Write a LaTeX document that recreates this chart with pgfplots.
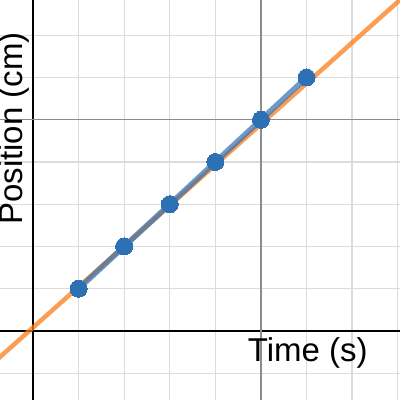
\documentclass[border=0pt]{standalone}
\usepackage{pgfplots}
\pgfplotsset{compat=1.18}
\usepackage{fontspec}
\setmainfont{Liberation Sans}
\definecolor{dorange}{RGB}{250,126,25}
\definecolor{dblue}{RGB}{45,112,179}
\definecolor{gminor}{RGB}{220,220,220}
\definecolor{gmajor}{RGB}{140,140,140}
\begin{document}
\begin{tikzpicture}
\begin{axis}[
  width=400bp, height=400bp, scale only axis,
  xmin=-0.724, xmax=8.05, ymin=-1.633, ymax=7.834,
  axis lines=middle,
  axis line style={black, line width=2.2bp, -},
  xtick={-1,0,1,2,3,4,6,7,8,9}, ytick={-2,-1,0,1,2,3,4,6,7,8},
  extra x ticks={5}, extra y ticks={5},
  xticklabels={}, yticklabels={},
  extra x tick labels={}, extra y tick labels={},
  major tick length=0pt,
  grid=major,
  grid style={color=gminor, line width=1.3bp},
  extra tick style={grid=major, major tick length=0pt, grid style={color=gmajor, line width=1.3bp}},
  clip=true,
]
\addplot[color=dorange, opacity=0.75, line width=4.5bp] coordinates {(-0.8,-0.688) (8.1,7.883)};
\addplot[color=dblue, opacity=0.7, line width=5.5bp, mark=none] coordinates {(1,1) (2,2) (3,3) (4,4) (5,5) (6,6)};
\addplot[color=dblue, only marks, mark=*, mark size=8.5bp, mark options={draw=dblue, fill=dblue, line width=0pt}] coordinates {(1,1) (2,2) (3,3) (4,4) (5,5) (6,6)};
\node[anchor=base west, inner sep=0pt, font=\fontsize{33bp}{40bp}\selectfont] at (axis cs:4.71,-0.71) {Time (s)};
\node[anchor=base west, inner sep=0pt, rotate=90, font=\fontsize{33bp}{40bp}\selectfont] at (axis cs:-0.24,2.51) {Position (cm)};
\end{axis}
\pgfresetboundingbox
\path (current axis.south west) rectangle (current axis.north east);
\end{tikzpicture}
\end{document}
